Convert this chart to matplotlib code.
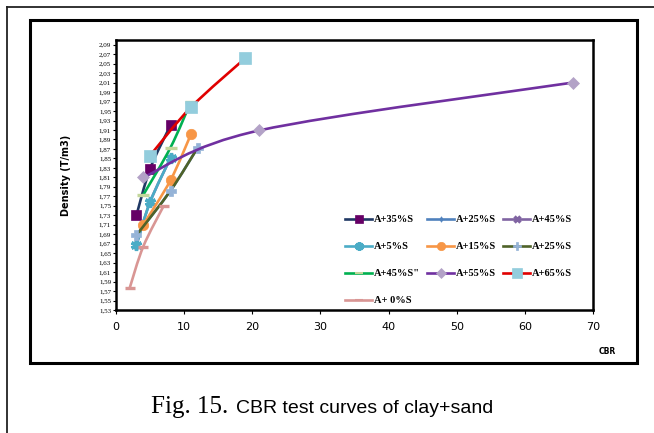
import numpy as np
import matplotlib
matplotlib.use("Agg")
import matplotlib.pyplot as plt
from matplotlib.path import Path
from matplotlib.patches import PathPatch
from matplotlib.lines import Line2D

# ---- data (CBR vs dry density) ----
labels = ["A+35%S", "A+25%S", "A+45%S", "A+5%S", "A+15%S", "A+25%S",
          'A+45%S"', "A+55%S", "A+65%S", "A+ 0%S"]

cbr_35 = [3, 5, 8];        dens_35 = [1.73, 1.828, 1.92]
cbr_25a = [3, 8, 12];      dens_25a = [1.688, 1.782, 1.873]
cbr_45 = [3, 5, 8];        dens_45 = [1.667, 1.758, 1.851]
cbr_5 = [3, 5, 8];         dens_5 = [1.667, 1.758, 1.851]
cbr_15 = [4, 8, 11];       dens_15 = [1.71, 1.804, 1.901]
cbr_25b = [3, 8, 12];      dens_25b = [1.688, 1.782, 1.873]
cbr_45b = [4, 8, 11];      dens_45b = [1.773, 1.873, 1.97]
cbr_55 = [4, 21, 67];      dens_55 = [1.81, 1.909, 2.01]
cbr_65 = [5, 11, 19];      dens_65 = [1.856, 1.958, 2.062]
cbr_0 = [2, 4, 7];         dens_0 = [1.576, 1.664, 1.75]

xs = [cbr_35, cbr_25a, cbr_45, cbr_5, cbr_15, cbr_25b, cbr_45b, cbr_55, cbr_65, cbr_0]
ys = [dens_35, dens_25a, dens_45, dens_5, dens_15, dens_25b, dens_45b, dens_55, dens_65, dens_0]

y_ticks = np.round(np.arange(1.53, 2.0901, 0.02), 2)

# style per series: line colour, marker, marker face, marker size
styles = [
    ("#1F3864", "s", "#660066", 7.0),
    ("#4F81BD", "d", "#4F81BD", 3.5),
    ("#8064A2", "x", "#8064A2", 5.0),
    ("#4BACC6", (6, 2, 0), "#4BACC6", 8.0),
    ("#F79646", "o", "#F79646", 7.5),
    ("#4F6228", "P", "#95B3D7", 6.5),
    ("#00B050", "_", "#C3D69B", 8.0),
    ("#7030A0", "D", "#B3A2C7", 6.5),
    ("#E00000", "s", "#93CDDD", 8.5),
    ("#D99694", "_", "#D99694", 7.0),
]


def smooth_path(x, y):
    # Excel-like smoothed line: cubic Bezier segments through the data points
    p = np.column_stack([x, y]).astype(float)
    n = len(p)
    verts = [p[0]]
    codes = [Path.MOVETO]
    for i in range(n - 1):
        pm = p[max(i - 1, 0)]
        pn = p[min(i + 2, n - 1)]
        c1 = p[i] + (p[i + 1] - pm) / 6.0
        c2 = p[i + 1] - (pn - p[i]) / 6.0
        verts += [c1, c2, p[i + 1]]
        codes += [Path.CURVE4] * 3
    return Path(verts, codes)


fig = plt.figure(figsize=(6.54, 4.33), dpi=100)

# outer page frame lines + chart frame
fig.add_artist(Line2D([7 / 654, 7 / 654], [0, 1 - 7 / 433], color="#222", lw=1.3))
fig.add_artist(Line2D([7 / 654, 1], [1 - 7 / 433, 1 - 7 / 433], color="#222", lw=1.3))
fig.add_artist(plt.Rectangle((30 / 654, 1 - 363 / 433), 607 / 654, 343 / 433,
                             fill=False, ec="black", lw=2.2))

ax = fig.add_axes([116 / 654, 1 - 310 / 433, 477 / 654, 270 / 433])

handles = []
for i, (x, y, (lc, mk, mf, ms)) in enumerate(zip(xs, ys, styles)):
    ax.add_patch(PathPatch(smooth_path(x, y), fc="none", ec=lc, lw=1.9, zorder=2 + i))
    mew = 2.4 if mk in ("_", "x") or isinstance(mk, tuple) else 0.5
    ax.plot(x, y, ls="none", marker=mk, ms=ms, mfc=mf, mec=mf, mew=mew, zorder=2.5 + i)
    handles.append(Line2D([], [], color=lc, lw=1.9, marker=mk, ms=ms * 0.8,
                          mfc=mf, mec=mf, mew=mew if mk != "_" else 1.5))

ax.set_xlim(0, 70)
ax.set_ylim(1.53, 2.10)
ax.set_xticks(range(0, 71, 10))
ax.set_yticks(y_ticks)
ax.set_yticklabels([f"{v:.2f}".replace(".", ",") for v in y_ticks],
                   fontsize=5, family="Liberation Serif")
ax.tick_params(axis="x", labelsize=8, direction="out", length=3, pad=6)
ax.tick_params(axis="y", direction="out", length=2.5, pad=1)
for s in ax.spines.values():
    s.set_linewidth(1.8)

ax.set_ylabel("Density (T/m3)", fontsize=7, fontweight="bold", labelpad=20)
fig.text(607 / 654, 1 - 351 / 433, "CBR", fontsize=5.5, fontweight="bold",
         ha="center", va="center")

# legend fills column-wise; reorder so entries read row by row (3 per row)
order = [0, 3, 6, 9, 1, 4, 7, 2, 5, 8]
leg = ax.legend([handles[k] for k in order], [labels[k] for k in order],
                ncol=3, loc="upper left",
                bbox_to_anchor=(341 / 654, 1 - 211 / 433), bbox_transform=fig.transFigure,
                frameon=False, handlelength=2.6, handletextpad=0.15,
                labelspacing=1.7, columnspacing=0.7, borderaxespad=0,
                prop={"family": "Liberation Serif", "weight": "bold", "size": 7.5})

# caption
fig.text(151 / 654, 1 - 413 / 433, "Fig. 15.", fontsize=18, family="Liberation Serif",
         ha="left", va="baseline")
fig.text(236 / 654, 1 - 413 / 433, "CBR test curves of clay+sand", fontsize=14,
         family="Liberation Sans", ha="left", va="baseline")

fig.savefig("out.png", dpi=100)
